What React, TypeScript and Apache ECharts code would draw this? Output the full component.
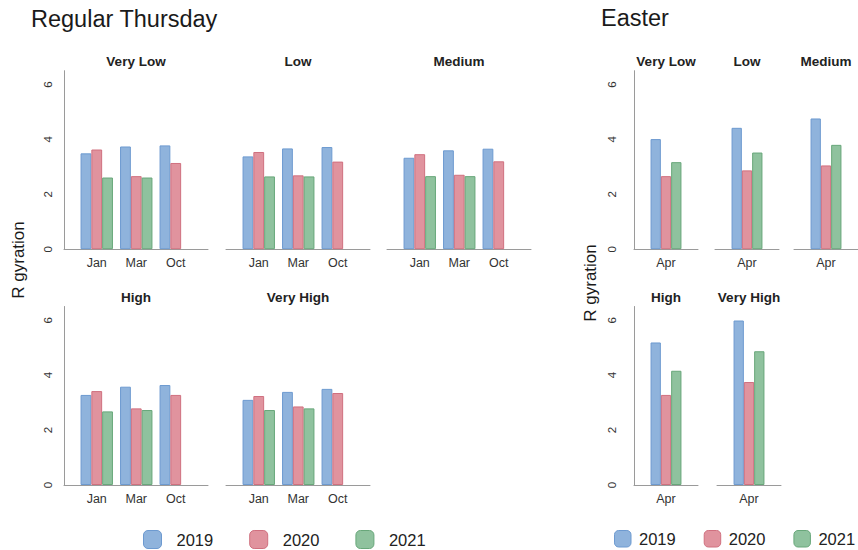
import React, { useEffect, useRef } from 'react';
import * as echarts from 'echarts';

// ---- data ----
const years = ['2019', '2020', '2021'];
const levels = ['Very Low', 'Low', 'Medium', 'High', 'Very High'];
const thursdayMonths = ['Jan', 'Mar', 'Oct'];
const easterMonths = ['Apr'];
const yTicks = [0, 2, 4, 6];

// Regular Thursday: one [Jan, Mar, Oct] triple per level
const thursday2019 = [
  [3.49, 3.74, 3.78],
  [3.38, 3.67, 3.72],
  [3.33, 3.6, 3.66],
  [3.28, 3.58, 3.64],
  [3.1, 3.39, 3.5],
];
const thursday2020 = [
  [3.63, 2.66, 3.14],
  [3.54, 2.69, 3.19],
  [3.46, 2.71, 3.2],
  [3.42, 2.79, 3.28],
  [3.24, 2.86, 3.35],
];
const thursday2021 = [
  [2.61, 2.61, null],
  [2.65, 2.65, null],
  [2.66, 2.66, null],
  [2.68, 2.73, null],
  [2.73, 2.79, null],
];

// Easter (April), one value per level
const easter2019 = [4.01, 4.42, 4.76, 5.19, 5.99];
const easter2020 = [2.66, 2.87, 3.05, 3.28, 3.75];
const easter2021 = [3.17, 3.52, 3.8, 4.16, 4.87];

// ---- styling ----
const FONT = '"Liberation Sans", Arial, sans-serif';
const fills = ['#8fb3dc', '#e0939e', '#8fc29e'];
const borders = ['#6d9ad0', '#d0707f', '#68a77a'];
const axisGray = '#9a9a9a';
const Y_MAX = 6.5;

const rowTop = [70.7, 306.5];
const rowHeight = 178.5;
const thursdayLefts = [[64, 226, 387], [64, 226]];
const thursdayWidth = 144;
const easterLefts = [[634, 715, 794], [634, 717]];
const easterWidth = 64;

const tickFormatter = (v: number) => (yTicks.includes(v) ? String(v) : '');

function buildOption() {
  const grid: any[] = [];
  const xAxis: any[] = [];
  const yAxis: any[] = [];
  const series: any[] = [];
  const graphic: any[] = [];

  const valueAxis = (gridIndex: number, visible: boolean, margin: number) => ({
    gridIndex,
    type: 'value',
    min: 0,
    max: Y_MAX,
    interval: 2,
    show: visible,
    axisLine: { show: true, lineStyle: { color: axisGray, width: 1 } },
    axisTick: { show: false },
    splitLine: { show: false },
    axisLabel: {
      rotate: 90,
      margin,
      fontSize: 11.5,
      color: '#333',
      fontFamily: FONT,
      showMaxLabel: false,
      formatter: tickFormatter,
    },
  });

  const addBars = (gridIndex: number, values: (number | null)[][], barWidth: number) => {
    years.forEach((year, k) => {
      series.push({
        type: 'bar',
        name: year,
        xAxisIndex: gridIndex,
        yAxisIndex: gridIndex,
        data: values[k],
        barWidth,
        barGap: '0%',
        itemStyle: { color: fills[k], borderColor: borders[k], borderWidth: 1 },
      });
    });
  };

  const panelTitle = (text: string, x: number, y: number) => {
    graphic.push({
      type: 'text',
      x,
      y,
      style: {
        text,
        align: 'center',
        verticalAlign: 'middle',
        fontSize: 13.5,
        fontWeight: 'bold',
        fontFamily: FONT,
        fill: '#222',
      },
    });
  };

  // Regular Thursday small multiples
  levels.forEach((level, i) => {
    const row = i < 3 ? 0 : 1;
    const col = i < 3 ? i : i - 3;
    const left = thursdayLefts[row][col];
    const top = rowTop[row];

    // frame grid: carries the baseline and the y axis
    const gw = grid.length;
    grid.push({ left, top, width: thursdayWidth, height: rowHeight });
    xAxis.push({
      gridIndex: gw,
      type: 'category',
      data: [''],
      axisLine: { show: true, lineStyle: { color: axisGray, width: 1 } },
      axisTick: { show: false },
      axisLabel: { show: false },
    });
    yAxis.push(valueAxis(gw, col === 0, 10));

    // bar grid: month categories
    const gn = grid.length;
    grid.push({ left: left + 13, top, width: 118.5, height: rowHeight });
    xAxis.push({
      gridIndex: gn,
      type: 'category',
      data: thursdayMonths,
      axisLine: { show: false },
      axisTick: { show: false },
      axisLabel: { fontSize: 12.5, color: '#333', fontFamily: FONT, margin: 7 },
    });
    yAxis.push({ ...valueAxis(gn, false, 0) });
    addBars(gn, [thursday2019[i], thursday2020[i], thursday2021[i]], 10.8);

    panelTitle(level, left + thursdayWidth / 2, top - 9.5);
  });

  // Easter small multiples
  levels.forEach((level, i) => {
    const row = i < 3 ? 0 : 1;
    const col = i < 3 ? i : i - 3;
    const left = easterLefts[row][col];
    const top = rowTop[row];
    const g = grid.length;
    grid.push({ left, top, width: easterWidth, height: rowHeight });
    xAxis.push({
      gridIndex: g,
      type: 'category',
      data: easterMonths,
      axisLine: { show: true, lineStyle: { color: axisGray, width: 1 } },
      axisTick: { show: false },
      axisLabel: { fontSize: 12.5, color: '#333', fontFamily: FONT, margin: 7 },
    });
    yAxis.push(valueAxis(g, col === 0, 16));
    addBars(g, [[easter2019[i]], [easter2020[i]], [easter2021[i]]], 10.3);

    panelTitle(level, left + easterWidth / 2, top - 9.5);
  });

  // section titles
  graphic.push(
    {
      type: 'text',
      x: 31,
      y: 19,
      style: { text: 'Regular Thursday', align: 'left', verticalAlign: 'middle', fontSize: 23.5, fontFamily: FONT, fill: '#1a1a1a' },
    },
    {
      type: 'text',
      x: 601,
      y: 18,
      style: { text: 'Easter', align: 'left', verticalAlign: 'middle', fontSize: 23.5, fontFamily: FONT, fill: '#1a1a1a' },
    },
    {
      type: 'text',
      x: 18,
      y: 260,
      rotation: Math.PI / 2,
      style: { text: 'R gyration', align: 'center', verticalAlign: 'middle', fontSize: 17, fontFamily: FONT, fill: '#1a1a1a' },
    },
    {
      type: 'text',
      x: 590,
      y: 283,
      rotation: Math.PI / 2,
      style: { text: 'R gyration', align: 'center', verticalAlign: 'middle', fontSize: 17, fontFamily: FONT, fill: '#1a1a1a' },
    }
  );

  const legendBase = {
    data: years,
    top: 530,
    padding: 0,
    orient: 'horizontal',
    icon: 'roundRect',
    selectedMode: false,
    itemStyle: { borderWidth: 1 },
  };

  return {
    animation: false,
    backgroundColor: '#ffffff',
    grid,
    xAxis,
    yAxis,
    series,
    graphic,
    legend: [
      {
        ...legendBase,
        left: 143,
        itemWidth: 18,
        itemHeight: 18,
        itemGap: 36,
        textStyle: { fontSize: 16.5, color: '#222', fontFamily: FONT, padding: [0, 0, 0, 10] },
      },
      {
        ...legendBase,
        left: 614,
        itemWidth: 16.5,
        itemHeight: 16.5,
        itemGap: 28,
        textStyle: { fontSize: 16.5, color: '#222', fontFamily: FONT, padding: [0, 0, 0, 3] },
      },
    ],
  };
}

export default function App() {
  const ref = useRef<HTMLDivElement>(null);

  useEffect(() => {
    if (!ref.current) return;
    const chart = echarts.init(ref.current, undefined, { renderer: 'svg' });
    chart.setOption(buildOption() as any);
    return () => chart.dispose();
  }, []);

  return (
    <div
      ref={ref}
      style={{ position: 'fixed', left: 0, top: 0, width: 858, height: 550, background: '#fff' }}
    />
  );
}
